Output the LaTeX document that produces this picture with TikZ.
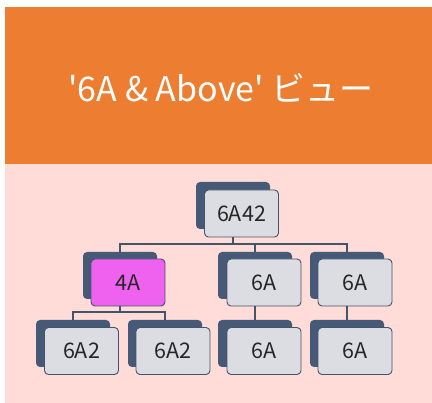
\documentclass[tikz,border=0pt]{standalone}
\usepackage{fontspec}
\setmainfont{Noto Sans CJK JP}
\definecolor{bandorange}{HTML}{ED7D31}
\definecolor{bgpink}{HTML}{FFDCD8}
\definecolor{backblue}{HTML}{465A78}
\definecolor{frontgray}{HTML}{DCDDE2}
\definecolor{edgegray}{HTML}{44546A}
\definecolor{boxpink}{HTML}{EF62EF}
\begin{document}
\begin{tikzpicture}[x=1pt,y=-1pt,
  backbox/.style={rectangle,rounded corners=4pt,fill=backblue,minimum width=74pt,minimum height=47pt,inner sep=0pt},
  frontbox/.style={rectangle,rounded corners=4pt,draw=edgegray,line width=0.9pt,fill=frontgray,minimum width=74pt,minimum height=47pt,inner sep=0pt,text=black!85,font=\fontsize{21.5}{26}\selectfont},
  link/.style={draw=edgegray,line width=1.6pt}]
\useasboundingbox (0,0) rectangle (432,403);
% Background
\fill[bgpink] (5,164) rectangle (432,403);
\fill[bandorange] (5,7) rectangle (432,164);
\node (title) at (221,88) [text=white,font=\fontsize{34}{40}\selectfont] {\textquotesingle 6A \& Above\textquotesingle{} ビュー};
% Back boxes
\node (b1) at (233,205.5) [backbox] {};
\node (b2) at (120,275.5) [backbox] {};
\node (b3) at (255,275.5) [backbox] {};
\node (b4) at (347,275.5) [backbox] {};
\node (b5) at (73,343.5) [backbox] {};
\node (b6) at (165,343.5) [backbox] {};
\node (b7) at (255,343.5) [backbox] {};
\node (b8) at (347,343.5) [backbox] {};
% Links
\draw[link] (b1.south) -- ++(0,15) -| (b2.north);
\draw[link] (b1.south) -- ++(0,15) -| (b3.north);
\draw[link] (b1.south) -- ++(0,15) -| (b4.north);
\draw[link] (b2.south) -- ++(0,13) -| (b5.north);
\draw[link] (b2.south) -- ++(0,13) -| (b6.north);
\draw[link] (b3.south) -- (b7.north);
\draw[link] (b4.south) -- (b8.north);
% Front boxes
\node (f1) at (241.5,213.5) [frontbox] {6A42};
\node (f2) at (128,282.5) [frontbox,fill=boxpink] {4A};
\node (f3) at (264,282.5) [frontbox] {6A};
\node (f4) at (355,282.5) [frontbox] {6A};
\node (f5) at (81.5,351) [frontbox] {6A2};
\node (f6) at (173,351) [frontbox] {6A2};
\node (f7) at (264,351) [frontbox] {6A};
\node (f8) at (355,351) [frontbox] {6A};
\end{tikzpicture}
\end{document}
